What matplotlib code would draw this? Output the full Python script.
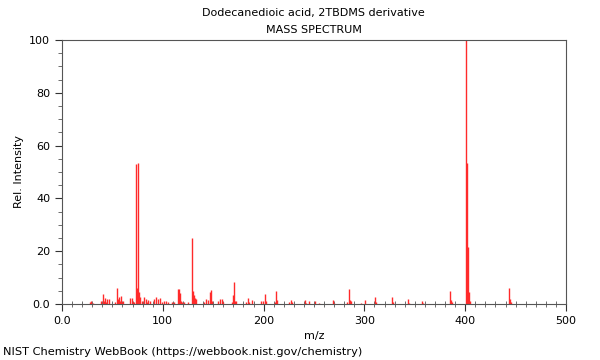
import numpy as np
import matplotlib
matplotlib.use("Agg")
import matplotlib.pyplot as plt
from matplotlib.ticker import MultipleLocator, FuncFormatter

title = "Dodecanedioic acid, 2TBDMS derivative"
subtitle = "MASS SPECTRUM"
footer = "NIST Chemistry WebBook (https://webbook.nist.gov/chemistry)"

mz = [28, 29, 31, 39, 41, 42, 43, 44, 45, 47, 53, 55, 56, 57, 58, 59, 60, 61,
      67, 69, 70, 71, 73, 74, 75, 76, 77, 79, 81, 83, 84, 85, 87, 91, 93, 95,
      97, 99, 101, 103, 105, 109, 111, 115, 116, 117, 118, 119, 121, 125, 129,
      130, 131, 132, 133, 141, 143, 145, 147, 148, 149, 155, 157, 159, 160,
      169, 170, 171, 172, 173, 183, 185, 186, 189, 197, 199, 201, 202, 211,
      212, 213, 225, 227, 228, 241, 242, 245, 251, 255, 269, 270, 283, 285,
      286, 287, 297, 301, 311, 312, 327, 328, 343, 344, 357, 358, 385, 386,
      387, 401, 402, 403, 404, 405, 443, 444, 445]
intensity = [0.8, 1.0, 0.5, 1.0, 3.8, 1.0, 2.2, 0.8, 2.0, 2.0, 0.8, 6.0, 1.8,
             2.8, 1.0, 3.2, 0.8, 1.0, 2.2, 2.2, 0.8, 0.8, 53.0, 6.0, 53.5, 4.5,
             2.8, 1.0, 2.8, 2.0, 0.8, 1.5, 1.0, 2.0, 2.5, 2.0, 2.2, 0.8, 1.2,
             1.0, 0.8, 0.8, 0.8, 5.8, 5.5, 4.2, 1.0, 0.8, 0.8, 0.6, 25.0, 4.8,
             3.5, 2.2, 1.8, 0.8, 2.0, 1.5, 4.5, 5.3, 1.0, 1.0, 2.0, 2.0, 0.6,
             0.8, 3.5, 8.3, 1.0, 1.0, 0.8, 2.3, 0.6, 1.5, 1.0, 1.0, 3.8, 1.0,
             0.8, 5.0, 1.5, 0.6, 1.6, 0.8, 1.6, 0.5, 1.2, 1.2, 0.5, 1.5, 0.4,
             0.6, 5.5, 1.5, 1.0, 0.5, 1.5, 2.6, 0.8, 2.6, 0.6, 2.0, 0.5, 1.0,
             0.4, 4.8, 1.5, 0.6, 100.0, 53.5, 21.5, 4.5, 1.0, 6.0, 2.0, 0.8]


def fmt(v, pos):
    return "0.0" if v == 0 else "%d" % v


fig = plt.figure(figsize=(6, 3.6), dpi=100)
ax = fig.add_axes([0.1033, 0.1556, 0.84, 0.7333])

ax.vlines(mz, 0, intensity, colors="#ff2a2a", linewidth=1.0)

ax.set_xlim(0, 500)
ax.set_ylim(0, 100)
ax.xaxis.set_major_locator(MultipleLocator(100))
ax.xaxis.set_minor_locator(MultipleLocator(10))
ax.yaxis.set_major_locator(MultipleLocator(20))
ax.yaxis.set_minor_locator(MultipleLocator(5))
ax.xaxis.set_major_formatter(FuncFormatter(fmt))
ax.yaxis.set_major_formatter(FuncFormatter(fmt))
ax.tick_params(labelsize=8, length=5, width=0.8, color="#333333")
ax.tick_params(which="minor", length=3, width=0.6, color="#555555")
ax.tick_params(axis="x", which="minor", direction="inout", length=5)
for s in ax.spines.values():
    s.set_color("#555555")
    s.set_linewidth(0.8)

ax.set_xlabel("m/z", fontsize=8)
ax.set_ylabel("Rel. Intensity", fontsize=8)

fig.text(0.523, 0.963, title, ha="center", va="center", fontsize=8)
fig.text(0.523, 0.916, subtitle, ha="center", va="center", fontsize=8)
fig.text(0.005, 0.022, footer, ha="left", va="center", fontsize=8.2)

fig.savefig("out.png", dpi=100)
